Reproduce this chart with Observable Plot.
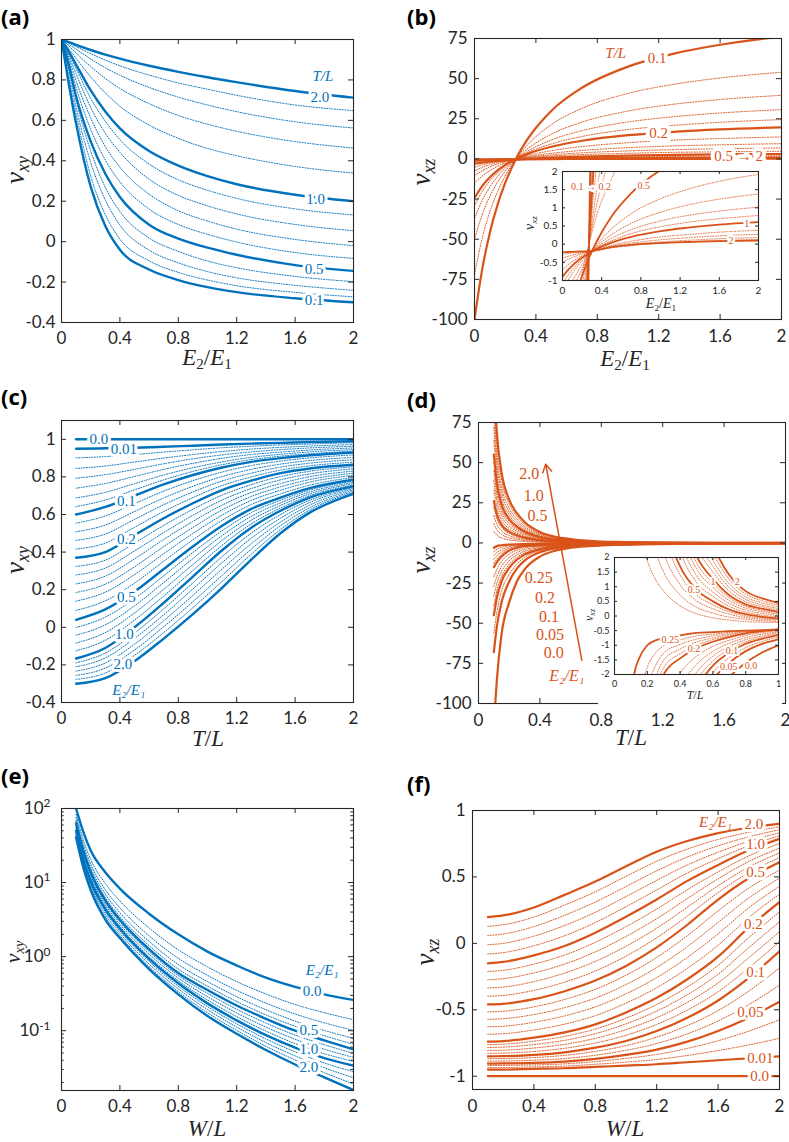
<!DOCTYPE html>
<html><head><meta charset="utf-8">
<script src="https://cdn.jsdelivr.net/npm/d3@7"></script>
<script src="https://cdn.jsdelivr.net/npm/@observablehq/plot@0.6"></script>
<style>
body{margin:0;background:#fff;}
#page{position:relative;width:789px;height:1142px;overflow:hidden;background:#fff;}
.tag{position:absolute;font:700 22px "Open Sans",sans-serif;color:#000;line-height:1.1;}
.lab{position:absolute;font-family:"Liberation Serif","DejaVu Serif",serif;color:#262626;white-space:nowrap;line-height:1;transform:translate(-50%,-50%);}
.lab.rot{transform:translate(-50%,-50%) rotate(-90deg);}
.lab sub{font-size:66%;vertical-align:-0.3em;line-height:0;}
</style></head><body><div id="page"></div><script>
const BLUE = "#0072BD", ORANGE = "#D95319", AX = "#262626";
const LAB_FONT = "'Liberation Serif','DejaVu Serif',serif";

// ---------- (a) nu_xy vs E2/E1, curves for T/L ----------
const aX = [0, 0.05, 0.1, 0.2, 0.3, 0.4, 0.6, 0.8, 1.0, 1.2, 1.6, 2.0];
const aKeys = [0.1, 0.2, 0.3, 0.4, 0.5, 0.6, 0.7, 0.8, 0.9, 1.0, 1.2, 1.4, 1.6, 1.8, 2.0];
const aThick = [0.1, 0.5, 1.0, 2.0];
const aY = [
  [1, 0.78, 0.584, 0.272, 0.077, -0.04, -0.138, -0.19, -0.225, -0.25, -0.28, -0.30],
  [1, 0.809, 0.631, 0.325, 0.134, 0.013, -0.095, -0.152, -0.19, -0.218, -0.251, -0.273],
  [1, 0.839, 0.665, 0.392, 0.206, 0.082, -0.042, -0.105, -0.148, -0.179, -0.216, -0.241],
  [1, 0.862, 0.7, 0.449, 0.269, 0.149, 0.018, -0.048, -0.096, -0.129, -0.172, -0.198],
  [1, 0.874, 0.719, 0.496, 0.336, 0.221, 0.084, 0.015, -0.03, -0.065, -0.116, -0.145],
  [1, 0.892, 0.762, 0.556, 0.404, 0.296, 0.161, 0.085, 0.036, -0.002, -0.054, -0.083],
  [1, 0.908, 0.796, 0.612, 0.47, 0.368, 0.235, 0.153, 0.102, 0.062, 0.011, -0.02],
  [1, 0.92, 0.83, 0.664, 0.536, 0.442, 0.309, 0.229, 0.177, 0.137, 0.085, 0.054],
  [1, 0.931, 0.857, 0.709, 0.596, 0.505, 0.384, 0.306, 0.254, 0.214, 0.162, 0.132],
  [1, 0.94, 0.876, 0.748, 0.644, 0.56, 0.448, 0.376, 0.324, 0.284, 0.232, 0.2],
  [1, 0.954, 0.907, 0.815, 0.736, 0.67, 0.577, 0.511, 0.461, 0.425, 0.372, 0.339],
  [1, 0.968, 0.933, 0.866, 0.807, 0.758, 0.683, 0.624, 0.581, 0.546, 0.495, 0.463],
  [1, 0.976, 0.952, 0.904, 0.86, 0.823, 0.763, 0.715, 0.676, 0.643, 0.593, 0.562],
  [1, 0.983, 0.965, 0.93, 0.898, 0.87, 0.824, 0.785, 0.754, 0.724, 0.676, 0.648],
  [1, 0.987, 0.974, 0.948, 0.925, 0.905, 0.87, 0.84, 0.813, 0.789, 0.745, 0.712]
];
const aLabT = ["2.0", "1.0", "0.5", "0.1"];
const aLabX = [1.77, 1.74, 1.73, 1.73];
const aLabY = [0.715, 0.212, -0.138, -0.292];

// ---------- (b) nu_xz vs E2/E1, curves for T/L ----------
const bX = [0, 0.05, 0.1, 0.15, 0.2, 0.27, 0.35, 0.5, 0.7, 1.0, 1.3, 1.6, 2.0];
const bKeys = [0.1, 0.12, 0.14, 0.16, 0.18, 0.2, 0.25, 0.3, 0.35, 0.4, 0.5, 0.6, 0.7, 0.8, 0.9, 1.0, 1.2, 1.4, 1.6, 1.8, 2.0];
const bThick = [0.1, 0.2, 0.5, 1.0, 2.0];
const bY = [
  [-100, -68.8, -45.9, -28.6, -14.9, 0, 12.9, 29.9, 44.3, 57.5, 65.6, 71.1, 76.2],
  [-72, -49.4, -32.9, -20.4, -10.6, 0, 9.2, 21.3, 31.5, 40.8, 46.5, 50.4, 54.0],
  [-50.1, -34.7, -23.3, -14.5, -7.6, 0, 6.6, 15.4, 22.9, 29.8, 34.1, 37.0, 39.6],
  [-37.1, -25.9, -17.5, -11.0, -5.7, 0, 5.0, 11.8, 17.6, 23.0, 26.3, 28.6, 30.7],
  [-29.0, -20.3, -13.7, -8.6, -4.5, 0, 4.0, 9.3, 14.0, 18.3, 20.9, 22.8, 24.5],
  [-24.3, -16.9, -11.4, -7.1, -3.7, 0, 3.3, 7.6, 11.3, 14.8, 16.9, 18.4, 19.7],
  [-15.0, -10.7, -7.3, -4.6, -2.4, 0, 2.2, 5.1, 7.7, 10.1, 11.7, 12.7, 13.7],
  [-10.4, -7.4, -5.0, -3.2, -1.7, 0, 1.5, 3.5, 5.3, 7.0, 8.1, 8.8, 9.5],
  [-7.5, -5.3, -3.6, -2.3, -1.2, 0, 1.1, 2.5, 3.8, 5.0, 5.8, 6.3, 6.8],
  [-5.2, -3.7, -2.6, -1.6, -0.8, 0, 0.8, 1.8, 2.7, 3.5, 4.1, 4.4, 4.8],
  [-3.0, -2.32, -1.76, -1.28, -0.87, -0.38, 0.08, 0.76, 1.4, 2.04, 2.47, 2.78, 3.07],
  [-2.2, -1.72, -1.31, -0.97, -0.68, -0.33, -0.02, 0.42, 0.84, 1.25, 1.53, 1.73, 1.92],
  [-1.7, -1.34, -1.03, -0.78, -0.56, -0.3, -0.06, 0.26, 0.57, 0.88, 1.09, 1.24, 1.38],
  [-1.3, -1.03, -0.81, -0.62, -0.46, -0.27, -0.09, 0.16, 0.4, 0.64, 0.8, 0.91, 1.02],
  [-1.1, -0.88, -0.7, -0.55, -0.41, -0.26, -0.11, 0.09, 0.29, 0.48, 0.61, 0.7, 0.79],
  [-0.9, -0.73, -0.59, -0.47, -0.37, -0.25, -0.13, 0.04, 0.2, 0.36, 0.46, 0.54, 0.61],
  [-0.7, -0.58, -0.48, -0.39, -0.32, -0.23, -0.15, -0.03, 0.08, 0.2, 0.27, 0.33, 0.38],
  [-0.5, -0.43, -0.37, -0.32, -0.27, -0.22, -0.16, -0.06, 0.03, 0.12, 0.18, 0.23, 0.27],
  [-0.38, -0.34, -0.3, -0.27, -0.24, -0.21, -0.17, -0.09, -0.01, 0.06, 0.11, 0.15, 0.18],
  [-0.28, -0.26, -0.24, -0.23, -0.22, -0.21, -0.17, -0.1, -0.04, 0.03, 0.07, 0.1, 0.13],
  [-0.22, -0.215, -0.21, -0.205, -0.2, -0.19, -0.16, -0.08, -0.02, 0.03, 0.06, 0.085, 0.1]
];
const bLabT = ["0.1", "0.2", "0.5 \u2192 2"];
const bLabX = [1.19, 1.2, 1.72];
const bLabY = [62.8, 16.2, 1.6];
const bInLabT = ["0.1 \u2192 0.2", "0.5", "1", "2"];
const bInLabX = [0.29, 0.83, 1.88, 1.72];
const bInLabY = [1.57, 1.6, 0.55, 0.08];

// ---------- (c) nu_xy vs T/L, curves for E2/E1 ----------
const cX = [0.1, 0.3, 0.5, 0.7, 0.9, 1.1, 1.3, 1.5, 1.7, 2.0];
const cKeys = ["0.0", "0.01", "c1", "c2", "c3", "c4", "c5", "c6", "0.1", "c7", "c8", "c9", "c10", "0.2", "c11", "c12", "c13", "c14", "c15", "c16", "0.5", "c17", "c18", "c19", "c20", "1.0", "c21", "c22", "c23", "c24", "c25", "2.0"];
const cThick = ["0.0", "0.01", "0.1", "0.2", "0.5", "1.0", "2.0"];
const cY = [
  [1, 1, 1, 1, 1, 1, 1, 1, 1, 1],
  [0.95, 0.952, 0.955, 0.96, 0.966, 0.972, 0.977, 0.981, 0.985, 0.99],
  [0.901, 0.908, 0.919, 0.932, 0.944, 0.955, 0.963, 0.970, 0.975, 0.982],
  [0.845, 0.858, 0.879, 0.90, 0.919, 0.935, 0.948, 0.957, 0.964, 0.972],
  [0.793, 0.812, 0.84, 0.87, 0.896, 0.917, 0.933, 0.945, 0.954, 0.963],
  [0.74, 0.765, 0.802, 0.84, 0.872, 0.899, 0.919, 0.932, 0.943, 0.954],
  [0.688, 0.718, 0.764, 0.81, 0.849, 0.88, 0.904, 0.92, 0.933, 0.945],
  [0.642, 0.677, 0.731, 0.784, 0.829, 0.865, 0.892, 0.91, 0.923, 0.937],
  [0.60, 0.64, 0.70, 0.76, 0.81, 0.85, 0.88, 0.90, 0.915, 0.93],
  [0.554, 0.592, 0.658, 0.724, 0.78, 0.826, 0.86, 0.884, 0.901, 0.917],
  [0.508, 0.544, 0.616, 0.688, 0.75, 0.802, 0.84, 0.868, 0.887, 0.904],
  [0.462, 0.496, 0.574, 0.652, 0.72, 0.778, 0.82, 0.852, 0.873, 0.891],
  [0.416, 0.448, 0.532, 0.616, 0.69, 0.754, 0.80, 0.836, 0.859, 0.878],
  [0.37, 0.40, 0.49, 0.58, 0.66, 0.73, 0.78, 0.82, 0.845, 0.865],
  [0.324, 0.357, 0.448, 0.542, 0.628, 0.703, 0.759, 0.802, 0.83, 0.854],
  [0.278, 0.315, 0.406, 0.504, 0.596, 0.677, 0.738, 0.784, 0.816, 0.843],
  [0.231, 0.272, 0.364, 0.467, 0.563, 0.65, 0.717, 0.765, 0.801, 0.831],
  [0.185, 0.229, 0.322, 0.429, 0.531, 0.624, 0.696, 0.747, 0.786, 0.82],
  [0.139, 0.187, 0.28, 0.391, 0.499, 0.597, 0.675, 0.729, 0.772, 0.809],
  [0.09, 0.141, 0.235, 0.351, 0.465, 0.569, 0.653, 0.71, 0.756, 0.797],
  [0.04, 0.095, 0.19, 0.31, 0.43, 0.54, 0.63, 0.69, 0.74, 0.785],
  [-0.001, 0.054, 0.152, 0.274, 0.398, 0.514, 0.61, 0.676, 0.73, 0.778],
  [-0.042, 0.013, 0.114, 0.238, 0.366, 0.488, 0.59, 0.662, 0.72, 0.771],
  [-0.084, -0.028, 0.076, 0.202, 0.334, 0.462, 0.57, 0.648, 0.71, 0.764],
  [-0.125, -0.069, 0.038, 0.166, 0.302, 0.436, 0.55, 0.634, 0.70, 0.757],
  [-0.166, -0.11, 0.0, 0.13, 0.27, 0.41, 0.53, 0.62, 0.69, 0.75],
  [-0.189, -0.137, -0.031, 0.098, 0.236, 0.376, 0.501, 0.60, 0.676, 0.743],
  [-0.21, -0.163, -0.059, 0.067, 0.204, 0.344, 0.474, 0.58, 0.664, 0.737],
  [-0.233, -0.19, -0.09, 0.035, 0.17, 0.31, 0.445, 0.56, 0.65, 0.73],
  [-0.256, -0.217, -0.121, 0.003, 0.136, 0.276, 0.416, 0.54, 0.636, 0.723],
  [-0.277, -0.243, -0.149, -0.028, 0.104, 0.244, 0.389, 0.52, 0.624, 0.717],
  [-0.30, -0.27, -0.18, -0.06, 0.07, 0.21, 0.36, 0.50, 0.61, 0.71]
];
const cLabT = ["0.0", "0.01", "0.1", "0.2", "0.5", "1.0", "2.0"];
const cLabX = [0.256, 0.427, 0.445, 0.445, 0.445, 0.43, 0.42];
const cLabY = [1.0, 0.95, 0.67, 0.47, 0.16, -0.035, -0.195];

// ---------- (d) nu_xz vs T/L, curves for E2/E1 ----------
const dX = [0.1, 0.12, 0.15, 0.2, 0.25, 0.3, 0.4, 0.5, 0.6, 0.7, 0.8, 0.9, 1.0, 1.5, 2.0];
const dKeys = [2.0, 1.8, 1.6, 1.4, 1.2, 1.0, 0.9, 0.8, 0.7, 0.6, 0.5, 0.45, 0.4, 0.35, 0.3, 0.25, 0.24, 0.23, 0.22, 0.21, 0.2, 0.18, 0.16, 0.14, 0.12, 0.1, 0.075, 0.05, 0.0];
const dThick = [2.0, 1.0, 0.5, 0.25, 0.2, 0.1, 0.05, 0.0];
const dY = [
  [100, 68, 44, 27, 18.5, 13, 6.8, 3.8, 2.4, 1.4, 0.85, 0.6, 0.45, 0.12, 0.05],
  [90, 61.2, 39.6, 24.3, 16.7, 11.7, 6.1, 3.4, 2.15, 1.25, 0.75, 0.52, 0.38, 0.1, 0.03],
  [80, 54.4, 35.2, 21.6, 14.8, 10.4, 5.4, 3.0, 1.9, 1.1, 0.65, 0.45, 0.32, 0.07, 0.02],
  [72, 49, 31.7, 19.4, 13.3, 9.3, 4.85, 2.7, 1.7, 0.97, 0.57, 0.38, 0.26, 0.05, 0.01],
  [64, 43.5, 28.2, 17.3, 11.8, 8.3, 4.3, 2.4, 1.5, 0.85, 0.49, 0.32, 0.21, 0.03, 0.0],
  [55, 37.4, 24.2, 14.9, 10.2, 7.1, 3.7, 2.05, 1.27, 0.71, 0.4, 0.25, 0.15, 0.0, -0.02],
  [50, 34, 22, 13.5, 9.2, 6.4, 3.3, 1.83, 1.12, 0.62, 0.33, 0.2, 0.11, -0.02, -0.03],
  [45, 30.6, 19.8, 12.1, 8.3, 5.8, 3.0, 1.62, 0.98, 0.53, 0.27, 0.15, 0.07, -0.04, -0.04],
  [39, 26.5, 17.1, 10.5, 7.2, 5.0, 2.6, 1.38, 0.82, 0.43, 0.2, 0.09, 0.02, -0.06, -0.05],
  [33, 22.4, 14.5, 8.9, 6.1, 4.2, 2.2, 1.15, 0.67, 0.33, 0.13, 0.03, -0.03, -0.08, -0.06],
  [26, 17.7, 11.4, 7.0, 4.8, 3.3, 1.7, 0.9, 0.5, 0.22, 0.06, -0.03, -0.08, -0.1, -0.07],
  [22, 15, 9.7, 5.9, 4.0, 2.8, 1.4, 0.72, 0.38, 0.14, 0.0, -0.07, -0.11, -0.11, -0.08],
  [17, 11.6, 7.5, 4.6, 3.1, 2.15, 1.07, 0.52, 0.25, 0.06, -0.05, -0.11, -0.14, -0.12, -0.09],
  [12, 8.2, 5.3, 3.2, 2.2, 1.5, 0.72, 0.3, 0.1, -0.04, -0.11, -0.16, -0.18, -0.14, -0.1],
  [7, 4.8, 3.1, 1.9, 1.25, 0.85, 0.35, 0.08, -0.06, -0.14, -0.19, -0.21, -0.22, -0.16, -0.11],
  [-3, -2, -1.45, -1.0, -0.83, -0.78, -0.66, -0.58, -0.55, -0.52, -0.5, -0.48, -0.46, -0.3, -0.2],
  [-5.4, -4, -2.86, -1.76, -1.26, -1.02, -0.82, -0.68, -0.62, -0.56, -0.52, -0.49, -0.46, -0.3, -0.19],
  [-7.8, -6, -4.27, -2.52, -1.7, -1.27, -0.97, -0.79, -0.68, -0.6, -0.54, -0.5, -0.46, -0.29, -0.19],
  [-10.2, -8, -5.68, -3.28, -2.13, -1.51, -1.13, -0.89, -0.75, -0.64, -0.56, -0.5, -0.46, -0.29, -0.18],
  [-12.6, -10, -7.09, -4.04, -2.57, -1.76, -1.29, -1.0, -0.81, -0.68, -0.58, -0.51, -0.46, -0.28, -0.18],
  [-15, -12, -8.5, -4.8, -3.0, -2.0, -1.45, -1.1, -0.88, -0.72, -0.6, -0.52, -0.46, -0.28, -0.17],
  [-21, -16.4, -11.6, -6.9, -4.5, -3.06, -1.96, -1.38, -1.04, -0.83, -0.67, -0.57, -0.50, -0.29, -0.18],
  [-27, -20.8, -14.7, -9.1, -6.0, -4.12, -2.47, -1.66, -1.21, -0.93, -0.74, -0.62, -0.54, -0.31, -0.18],
  [-33, -25.2, -17.8, -11.2, -7.5, -5.18, -2.98, -1.94, -1.37, -1.04, -0.81, -0.68, -0.57, -0.32, -0.19],
  [-39, -29.6, -20.9, -13.4, -9.0, -6.24, -3.49, -2.22, -1.54, -1.14, -0.88, -0.73, -0.61, -0.34, -0.19],
  [-45, -34, -24, -15.5, -10.5, -7.3, -4.0, -2.5, -1.7, -1.25, -0.95, -0.78, -0.65, -0.35, -0.2],
  [-56, -43, -30, -19.7, -13.2, -9.1, -4.9, -2.95, -1.95, -1.42, -1.08, -0.87, -0.72, -0.38, -0.21],
  [-68, -52, -37, -24, -16, -11, -5.8, -3.4, -2.2, -1.6, -1.2, -0.95, -0.8, -0.4, -0.22],
  [-115, -85, -57, -37, -24, -16.5, -8.5, -4.8, -3.0, -2.1, -1.6, -1.25, -1.0, -0.45, -0.25]
];
const dLabT = ["2.0", "1.0", "0.5", "0.25", "0.2", "0.1", "0.05", "0.0"];
const dLabX = [0.33, 0.36, 0.385, 0.393, 0.434, 0.46, 0.465, 0.49];
const dLabY = [43, 29.5, 16.7, -21.7, -34.4, -45.8, -57, -68.4];
const dArrow = [{x1: 0.673, y1: -73, x2: 0.438, y2: 49}];
const dInLabT = ["2", "1", "0.5", "0.25", "0.2", "0.1", "0.05", "0.0"];
const dInLabX = [0.748, 0.60, 0.484, 0.34, 0.484, 0.717, 0.697, 0.833];
const dInLabY = [1.18, 1.18, 0.90, -0.82, -1.13, -1.18, -1.73, -1.69];

// ---------- (e) nu_xy (log) vs W/L, curves for E2/E1 ----------
const eX = [0.1, 0.15, 0.2, 0.3, 0.4, 0.6, 0.8, 1.0, 1.2, 1.4, 1.6, 1.8, 2.0];
const eKeys = [0.0, 0.1, 0.2, 0.3, 0.4, 0.5, 0.6, 0.7, 0.8, 1.0, 1.2, 1.4, 1.6, 2.0];
const eThick = [0.0, 0.5, 1.0, 2.0];
const eY = [
  [100, 48, 27, 13.8, 8.3, 3.8, 2.0, 1.17, 0.76, 0.52, 0.39, 0.31, 0.26],
  [83.2, 37.7, 20.6, 9.73, 5.65, 2.44, 1.24, 0.728, 0.461, 0.313, 0.226, 0.175, 0.141],
  [75.2, 33.0, 17.8, 8.02, 4.57, 1.91, 0.95, 0.56, 0.351, 0.236, 0.168, 0.128, 0.101],
  [69.8, 30.0, 16.0, 6.98, 3.91, 1.61, 0.783, 0.461, 0.288, 0.192, 0.135, 0.101, 0.079],
  [66.1, 27.9, 14.8, 6.28, 3.48, 1.41, 0.679, 0.4, 0.248, 0.164, 0.115, 0.0855, 0.0656],
  [63, 26.3, 13.8, 5.75, 3.16, 1.26, 0.6, 0.355, 0.219, 0.145, 0.1, 0.074, 0.056],
  [59.6, 24.5, 12.9, 5.37, 2.95, 1.17, 0.556, 0.32, 0.195, 0.127, 0.0875, 0.0646, 0.0495],
  [56.2, 22.9, 12.0, 5.01, 2.75, 1.08, 0.513, 0.288, 0.174, 0.112, 0.0767, 0.0562, 0.0437],
  [53.1, 21.4, 11.2, 4.68, 2.57, 1.0, 0.473, 0.26, 0.155, 0.0989, 0.0671, 0.049, 0.0385],
  [50, 20, 10.5, 4.37, 2.4, 0.93, 0.437, 0.234, 0.138, 0.087, 0.059, 0.0427, 0.0339],
  [47.6, 18.8, 9.77, 4.03, 2.23, 0.861, 0.4, 0.212, 0.124, 0.0776, 0.0519, 0.0367, 0.028],
  [45.2, 17.8, 9.12, 3.72, 2.07, 0.794, 0.367, 0.193, 0.112, 0.0692, 0.0457, 0.0316, 0.0232],
  [43.0, 16.8, 8.51, 3.43, 1.92, 0.733, 0.337, 0.175, 0.101, 0.0617, 0.0403, 0.0272, 0.0191],
  [40.7, 15.8, 7.9, 3.16, 1.78, 0.68, 0.31, 0.158, 0.091, 0.055, 0.035, 0.0234, 0.0158]
];
const eLabT = ["0.0", "0.5", "1.0", "2.0"];
const eLabX = [1.717, 1.694, 1.694, 1.694];
const eLabY = [0.343, 0.102, 0.0569, 0.032];
const eYTicks = [0.1, 1, 10, 100];
const eYTickLabels = ["10^-1", "10^0", "10^1", "10^2"];
const eYMinor = [0.02, 0.03, 0.04, 0.05, 0.06, 0.07, 0.08, 0.09, 0.2, 0.3, 0.4, 0.5, 0.6, 0.7, 0.8, 0.9, 2, 3, 4, 5, 6, 7, 8, 9, 20, 30, 40, 50, 60, 70, 80, 90];

// ---------- (f) nu_xz vs W/L, curves for E2/E1 ----------
const fX = [0.1, 0.2, 0.4, 0.6, 0.8, 1.0, 1.2, 1.4, 1.6, 1.8, 2.0];
const fKeys = [2.0, 1.8, 1.6, 1.4, 1.2, 1.0, 0.9, 0.8, 0.7, 0.6, 0.5, 0.4, 0.35, 0.3, 0.25, 0.2, 0.18, 0.16, 0.14, 0.12, 0.1, 0.08, 0.065, 0.05, 0.035, 0.02, 0.01, 0.0];
const fThick = [2.0, 1.0, 0.5, 0.2, 0.1, 0.05, 0.01, 0.0];
const fY = [
  [0.198, 0.21, 0.27, 0.365, 0.465, 0.58, 0.69, 0.77, 0.83, 0.87, 0.9],
  [0.128, 0.14, 0.198, 0.288, 0.388, 0.504, 0.618, 0.71, 0.782, 0.836, 0.877],
  [0.059, 0.07, 0.126, 0.211, 0.311, 0.428, 0.546, 0.65, 0.734, 0.802, 0.855],
  [-0.011, 0.0, 0.054, 0.134, 0.234, 0.352, 0.474, 0.59, 0.686, 0.768, 0.832],
  [-0.08, -0.07, -0.018, 0.057, 0.157, 0.276, 0.402, 0.53, 0.638, 0.734, 0.81],
  [-0.15, -0.14, -0.09, -0.02, 0.08, 0.2, 0.33, 0.47, 0.59, 0.7, 0.787],
  [-0.212, -0.203, -0.156, -0.088, 0.008, 0.126, 0.258, 0.404, 0.538, 0.658, 0.752],
  [-0.274, -0.266, -0.222, -0.156, -0.064, 0.052, 0.186, 0.338, 0.486, 0.616, 0.717],
  [-0.336, -0.329, -0.288, -0.224, -0.136, -0.022, 0.114, 0.272, 0.434, 0.574, 0.681],
  [-0.398, -0.392, -0.354, -0.292, -0.208, -0.096, 0.042, 0.206, 0.382, 0.532, 0.646],
  [-0.46, -0.455, -0.42, -0.36, -0.28, -0.17, -0.03, 0.14, 0.33, 0.49, 0.611],
  [-0.516, -0.511, -0.478, -0.422, -0.346, -0.24, -0.106, 0.058, 0.244, 0.416, 0.551],
  [-0.572, -0.567, -0.536, -0.484, -0.412, -0.31, -0.182, -0.024, 0.158, 0.342, 0.491],
  [-0.628, -0.624, -0.594, -0.546, -0.478, -0.38, -0.258, -0.106, 0.072, 0.268, 0.43],
  [-0.684, -0.68, -0.652, -0.608, -0.544, -0.45, -0.334, -0.188, -0.014, 0.194, 0.37],
  [-0.74, -0.736, -0.71, -0.67, -0.61, -0.52, -0.41, -0.27, -0.1, 0.12, 0.31],
  [-0.762, -0.759, -0.736, -0.7, -0.645, -0.563, -0.46, -0.328, -0.166, 0.044, 0.236],
  [-0.784, -0.781, -0.762, -0.73, -0.68, -0.606, -0.51, -0.386, -0.232, -0.032, 0.162],
  [-0.806, -0.804, -0.788, -0.76, -0.715, -0.649, -0.56, -0.444, -0.298, -0.108, 0.088],
  [-0.828, -0.826, -0.814, -0.79, -0.75, -0.692, -0.61, -0.502, -0.364, -0.184, 0.014],
  [-0.85, -0.849, -0.84, -0.82, -0.785, -0.735, -0.66, -0.56, -0.43, -0.26, -0.06],
  [-0.868, -0.867, -0.86, -0.843, -0.813, -0.77, -0.706, -0.619, -0.506, -0.359, -0.185],
  [-0.887, -0.886, -0.88, -0.867, -0.842, -0.805, -0.754, -0.681, -0.584, -0.461, -0.315],
  [-0.905, -0.904, -0.9, -0.89, -0.87, -0.84, -0.8, -0.74, -0.66, -0.56, -0.44],
  [-0.92, -0.919, -0.915, -0.907, -0.89, -0.866, -0.836, -0.791, -0.733, -0.661, -0.575],
  [-0.935, -0.935, -0.93, -0.924, -0.91, -0.894, -0.874, -0.844, -0.807, -0.764, -0.715],
  [-0.95, -0.95, -0.945, -0.94, -0.93, -0.92, -0.91, -0.895, -0.88, -0.865, -0.85],
  [-1, -1, -1, -1, -1, -1, -1, -1, -1, -1, -1]
];
const fLabT = ["2.0", "1.0", "0.5", "0.2", "0.1", "0.05", "0.01", "0.0"];
const fLabX = [1.833, 1.844, 1.844, 1.83, 1.844, 1.81, 1.876, 1.87];
const fLabY = [0.9, 0.75, 0.536, 0.148, -0.216, -0.517, -0.867, -1.0];

// shared ticks
const xTicks2 = [0, 0.4, 0.8, 1.2, 1.6, 2];
const yTicksA = [-0.4, -0.2, 0, 0.2, 0.4, 0.6, 0.8, 1];
const yTicksB = [-100, -75, -50, -25, 0, 25, 50, 75];
const yTicksBIn = [-1, -0.5, 0, 0.5, 1, 1.5, 2];
const xTicksDIn = [0, 0.2, 0.4, 0.6, 0.8, 1];
const yTicksDIn = [-2, -1.5, -1, -0.5, 0, 0.5, 1, 1.5, 2];
const yTicksF = [-1, -0.5, 0, 0.5, 1];

// ---------- helpers ----------
const page = document.getElementById("page");
const DOTS = "1,1.6";

function rows(xs, table, keys, thickKeys) {
  const out = [];
  table.forEach((ys, i) => ys.forEach((y, j) => out.push({x: xs[j], y, k: i, thick: thickKeys.includes(keys[i])})));
  return out;
}
function curves(data, color, wThick, wThin) {
  return [
    Plot.line(data.filter(d => !d.thick), {x: "x", y: "y", z: "k", stroke: color, strokeWidth: wThin, strokeDasharray: DOTS, curve: "monotone-x", clip: true}),
    Plot.line(data.filter(d => d.thick), {x: "x", y: "y", z: "k", stroke: color, strokeWidth: wThick, curve: "monotone-x", clip: true})
  ];
}
function txt(xs, ys, ts, color, size, halo, italic) {
  const data = ts.map((t, i) => ({x: xs[i], y: ys[i], t}));
  const opt = {x: "x", y: "y", text: "t", fill: color, fontSize: size, fontFamily: LAB_FONT};
  if (halo) Object.assign(opt, {stroke: "white", strokeWidth: halo, paintOrder: "stroke"});
  if (italic) opt.fontStyle = "italic";
  return Plot.text(data, opt);
}
function panel(o) {
  const iw = o.width - o.ml - o.mr, ih = o.height - o.mt - o.mb, tl = o.tickLen;
  const marks = [
    ...o.marks,
    Plot.frame({stroke: AX, strokeWidth: 1.1}),
    Plot.tickX(o.xTicks, {x: d => d, insetTop: ih - tl, stroke: AX}),
    Plot.tickX(o.xTicks, {x: d => d, insetBottom: ih - tl, stroke: AX}),
    Plot.tickY(o.yTicks, {y: d => d, insetRight: iw - tl, stroke: AX}),
    Plot.tickY(o.yTicks, {y: d => d, insetLeft: iw - tl, stroke: AX}),
    Plot.axisX({ticks: o.xTicks, anchor: "bottom", tickSize: 0, tickPadding: o.xPad, tickFormat: String, label: null, fill: AX}),
    Plot.axisY({ticks: o.yTicks, anchor: "left", tickSize: 0, tickPadding: o.yPad, tickFormat: o.yFmt || String, label: null, fill: AX})
  ];
  if (o.yMinor) {
    marks.push(Plot.tickY(o.yMinor, {y: d => d, insetRight: iw - tl * 0.55, stroke: AX}));
    marks.push(Plot.tickY(o.yMinor, {y: d => d, insetLeft: iw - tl * 0.55, stroke: AX}));
  }
  const svg = Plot.plot({
    width: o.width, height: o.height,
    marginLeft: o.ml, marginTop: o.mt, marginRight: o.mr, marginBottom: o.mb,
    x: {domain: o.xDomain, axis: null, label: null},
    y: {domain: o.yDomain, type: o.yType || "linear", axis: null, label: null},
    style: {fontFamily: "Lato, 'Open Sans', sans-serif", fontSize: o.fs + "px", color: AX, background: o.bg || "none", overflow: "visible"},
    marks
  });
  svg.style.position = "absolute";
  svg.style.left = o.left + "px";
  svg.style.top = o.top + "px";
  page.appendChild(svg);
  return svg;
}
function lab(html, cx, cy, size, rot, color) {
  const d = document.createElement("div");
  d.className = "lab" + (rot ? " rot" : "");
  d.style.left = cx + "px"; d.style.top = cy + "px"; d.style.fontSize = size + "px";
  if (color) d.style.color = color;
  d.innerHTML = html;
  page.appendChild(d);
}
function tag(t, x, y) {
  const d = document.createElement("div");
  d.className = "tag"; d.style.left = x + "px"; d.style.top = y + "px"; d.textContent = t;
  page.appendChild(d);
}
const E21 = "<i>E</i><sub>2</sub>/<i>E</i><sub>1</sub>";

// ---------- (a) ----------
const aRows = rows(aX, aY, aKeys, aThick);
panel({left: 0, top: 0, width: 380, height: 360, ml: 61, mt: 39, mr: 27, mb: 38,
  xDomain: [0, 2], yDomain: [-0.4, 1], xTicks: xTicks2, yTicks: yTicksA, tickLen: 5, fs: 17, xPad: 9, yPad: 6,
  marks: [...curves(aRows, BLUE, 2.4, 1),
    txt(aLabX, aLabY, aLabT, BLUE, 15, 6),
    txt([1.79], [0.82], ["T/L"], BLUE, 15, 0, true)]});

// ---------- (b) ----------
const bRows = rows(bX, bY, bKeys, bThick);
panel({left: 395, top: 0, width: 394, height: 360, ml: 79, mt: 38, mr: 8, mb: 41,
  xDomain: [0, 2], yDomain: [-100, 75], xTicks: xTicks2, yTicks: yTicksB, tickLen: 5, fs: 17, xPad: 10, yPad: 7,
  marks: [...curves(bRows, ORANGE, 2.2, 1),
    txt(bLabX, bLabY, bLabT, ORANGE, 15, 8),
    txt([0.92], [66], ["T/L"], ORANGE, 15, 0, true)]});
panel({left: 522, top: 163, width: 242, height: 150, ml: 40, mt: 8, mr: 6, mb: 33,
  xDomain: [0, 2], yDomain: [-1, 2], xTicks: xTicks2, yTicks: yTicksBIn, tickLen: 3, fs: 10, xPad: 6, yPad: 5, bg: "white",
  marks: [...curves(bRows, ORANGE, 1.8, 0.8),
    txt(bInLabX, bInLabY, bInLabT, ORANGE, 10, 5)]});

// ---------- (c) ----------
const cRows = rows(cX, cY, cKeys, cThick);
panel({left: 0, top: 380, width: 380, height: 360, ml: 61, mt: 40, mr: 27, mb: 38,
  xDomain: [0, 2], yDomain: [-0.4, 1.1], xTicks: xTicks2, yTicks: yTicksA, tickLen: 5, fs: 17, xPad: 9, yPad: 6,
  marks: [...curves(cRows, BLUE, 2.4, 1),
    txt(cLabX, cLabY, cLabT, BLUE, 15, 6),
    txt([0.46], [-0.337], ["E\u2082/E\u2081"], BLUE, 15, 0, true)]});

// ---------- (d) ----------
const dRows = rows(dX, dY, dKeys, dThick);
panel({left: 395, top: 380, width: 394, height: 360, ml: 83, mt: 42, mr: 4, mb: 37,
  xDomain: [0, 2], yDomain: [-100, 75], xTicks: xTicks2, yTicks: yTicksB, tickLen: 5, fs: 17, xPad: 10, yPad: 7,
  marks: [...curves(dRows, ORANGE, 2.2, 1),
    Plot.arrow(dArrow, {x1: "x1", y1: "y1", x2: "x2", y2: "y2", stroke: ORANGE, strokeWidth: 1.5, headLength: 9}),
    txt(dLabX, dLabY, dLabT, ORANGE, 16, 0),
    txt([0.575], [-82.5], ["E\u2082/E\u2081"], ORANGE, 16, 0, true)]});
panel({left: 598, top: 550, width: 184, height: 155, ml: 16, mt: 7, mr: 4, mb: 31,
  xDomain: [0, 1], yDomain: [-2, 2], xTicks: xTicksDIn, yTicks: yTicksDIn, tickLen: 3, fs: 9, xPad: 6, yPad: 5, bg: "white",
  marks: [...curves(dRows, ORANGE, 1.8, 0.8),
    txt(dInLabX, dInLabY, dInLabT, ORANGE, 10, 4)]});

// ---------- (e) ----------
const eRows = rows(eX, eY, eKeys, eThick);
const eSvg = panel({left: 0, top: 770, width: 380, height: 360, ml: 61, mt: 38, mr: 27, mb: 40,
  xDomain: [0, 2], yDomain: [0.0156, 100], yType: "log", xTicks: xTicks2, yTicks: eYTicks, yMinor: eYMinor,
  yFmt: d => eYTickLabels[eYTicks.indexOf(d)], tickLen: 5, fs: 17, xPad: 9, yPad: 11,
  marks: [...curves(eRows, BLUE, 2.4, 1),
    txt(eLabX, eLabY, eLabT, BLUE, 15, 6),
    txt([1.785], [0.653], ["E\u2082/E\u2081"], BLUE, 15, 0, true)]});
d3.select(eSvg).selectAll("text").each(function () {
  const m = /^10\^(.+)$/.exec(this.textContent);
  if (m) {
    this.textContent = "10";
    d3.select(this).append("tspan").attr("dy", "-0.55em").attr("font-size", "70%").text(m[1]);
  }
});

// ---------- (f) ----------
const fRows = rows(fX, fY, fKeys, fThick);
panel({left: 395, top: 770, width: 394, height: 360, ml: 77, mt: 40, mr: 10, mb: 41,
  xDomain: [0, 2], yDomain: [-1.1, 1], xTicks: xTicks2, yTicks: yTicksF, tickLen: 5, fs: 17, xPad: 10, yPad: 7,
  marks: [...curves(fRows, ORANGE, 2.2, 1),
    txt(fLabX, fLabY, fLabT, ORANGE, 15, 6),
    txt([1.583], [0.912], ["E\u2082/E\u2081"], ORANGE, 15, 0, true)]});

// ---------- axis titles (HTML) ----------
lab(E21, 207, 357, 23);
lab("<i>\u03bd</i><sub><i>xy</i></sub>", 15, 170, 27, true);
lab(E21, 625, 358, 23);
lab("<i>\u03bd</i><sub><i>xz</i></sub>", 421, 172, 27, true);
lab("<i>\u03bd</i><sub><i>xz</i></sub>", 530, 223, 14, true);
lab(E21, 661, 304, 14);
lab("<i>T</i>/<i>L</i>", 208, 738, 23);
lab("<i>\u03bd</i><sub><i>xy</i></sub>", 15, 560, 27, true);
lab("<i>T</i>/<i>L</i>", 631, 737, 23);
lab("<i>\u03bd</i><sub><i>xz</i></sub>", 421, 560, 27, true);
lab("<i>\u03bd</i><sub><i>xz</i></sub>", 589, 615, 12, true);
lab("<i>T</i>/<i>L</i>", 695, 695, 12);
lab("<i>W</i>/<i>L</i>", 207, 1128, 23);
lab("<i>\u03bd</i><sub><i>xy</i></sub>", 13, 952, 22, true);
lab("<i>W</i>/<i>L</i>", 625, 1128, 23);
lab("<i>\u03bd</i><sub><i>xz</i></sub>", 425, 952, 27, true);

tag("(a)", 1, 4); tag("(b)", 407, 4); tag("(c)", 1, 384);
tag("(d)", 407, 387); tag("(e)", 1, 763); tag("(f)", 407, 771);
</script></body></html>
